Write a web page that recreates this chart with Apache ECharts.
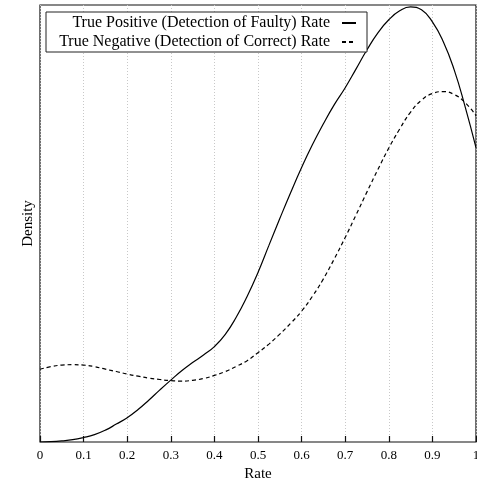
<!DOCTYPE html>
<html>
<head>
<meta charset="utf-8">
<script src="https://cdn.jsdelivr.net/npm/echarts@6/dist/echarts.min.js"></script>
<style>
  html, body { margin: 0; padding: 0; background: #fff; }
  #chart { width: 477px; height: 482px; }
</style>
</head>
<body>
<div id="chart"></div>
<script>
// rate grid (x) and kernel density estimates
var rates = [0, 0.025, 0.05, 0.075, 0.1, 0.125, 0.15, 0.175, 0.2, 0.225,
             0.25, 0.275, 0.3, 0.325, 0.35, 0.375, 0.4, 0.425, 0.45, 0.475,
             0.5, 0.525, 0.55, 0.575, 0.6, 0.625, 0.65, 0.675, 0.7, 0.725,
             0.75, 0.775, 0.8, 0.825, 0.85, 0.875, 0.9, 0.925, 0.95, 0.975, 1];
var truePositive = [0, 0.002, 0.006, 0.012, 0.023, 0.038, 0.061, 0.092, 0.125, 0.167,
                    0.216, 0.268, 0.318, 0.366, 0.408, 0.447, 0.49, 0.553, 0.641, 0.748,
                    0.871, 1.01, 1.148, 1.282, 1.41, 1.528, 1.635, 1.733, 1.82, 1.917,
                    2.015, 2.102, 2.169, 2.215, 2.235, 2.22, 2.158, 2.056, 1.912, 1.723, 1.512];
var trueNegative = [0.374, 0.387, 0.395, 0.397, 0.395, 0.387, 0.374, 0.362, 0.349, 0.338,
                    0.328, 0.321, 0.315, 0.313, 0.317, 0.326, 0.342, 0.362, 0.388, 0.418,
                    0.459, 0.503, 0.554, 0.61, 0.672, 0.749, 0.838, 0.941, 1.051, 1.167,
                    1.285, 1.4, 1.51, 1.608, 1.695, 1.756, 1.79, 1.8, 1.785, 1.744, 1.677];
var xTicks = ['0', '0.1', '0.2', '0.3', '0.4', '0.5', '0.6', '0.7', '0.8', '0.9', '1'];

var serif = '"Liberation Serif", "DejaVu Serif", serif';

function pairs(ys){
  var out = [];
  for (var i = 0; i < rates.length; i++) out.push([rates[i], ys[i]]);
  return out;
}

var chart = echarts.init(document.getElementById('chart'));
chart.setOption({
  animation: false,
  grid: {
    left: 40, right: 1, top: 5, bottom: 40,
    outerBoundsMode: 'none', containLabel: false,
    show: true, borderColor: '#111', borderWidth: 1.2
  },
  legend: {
    left: 46, top: 12,
    orient: 'vertical',
    align: 'right',
    itemWidth: 14, itemHeight: 10, itemGap: 1,
    padding: [2, 10, 1, 8],
    backgroundColor: '#fff',
    borderColor: '#222', borderWidth: 1, borderRadius: 0,
    itemStyle: { color: 'transparent', borderWidth: 0 },
    textStyle: {
      fontFamily: serif, fontSize: 16, lineHeight: 18, color: '#000',
      width: 276, align: 'right', padding: [0, 7, 0, 0]
    },
    data: ['True Positive (Detection of Faulty) Rate', 'True Negative (Detection of Correct) Rate']
  },
  xAxis: {
    type: 'value', min: 0, max: 1, interval: 0.1,
    name: 'Rate', nameLocation: 'middle', nameGap: 22,
    nameTextStyle: { fontFamily: serif, fontSize: 15, color: '#000' },
    axisLine: { show: false },
    axisTick: { show: true, inside: true, length: 6, lineStyle: { color: '#111', width: 1.2 } },
    axisLabel: {
      fontFamily: serif, fontSize: 13, color: '#000', margin: 7,
      formatter: function(v){ return xTicks[Math.round(v * 10)]; }
    },
    splitLine: { show: true, lineStyle: { color: '#c8c8c8', type: [1, 2], width: 1 } }
  },
  yAxis: {
    type: 'value', min: 0, max: 2.245,
    name: 'Density', nameLocation: 'middle', nameGap: 4,
    nameTextStyle: { fontFamily: serif, fontSize: 15, color: '#000' },
    axisLine: { show: false }, axisTick: { show: false },
    axisLabel: { show: false }, splitLine: { show: false }
  },
  series: [
    {
      name: 'True Positive (Detection of Faulty) Rate',
      type: 'line', smooth: true, symbol: 'none',
      lineStyle: { color: '#000', width: 1.2 },
      itemStyle: { color: '#000' },
      data: pairs(truePositive)
    },
    {
      name: 'True Negative (Detection of Correct) Rate',
      type: 'line', smooth: true, symbol: 'none',
      lineStyle: { color: '#000', width: 1.2, type: [4, 3] },
      itemStyle: { color: '#000' },
      data: pairs(trueNegative)
    }
  ]
});
window.addEventListener('resize', function(){ chart.resize(); });
</script>
</body>
</html>
